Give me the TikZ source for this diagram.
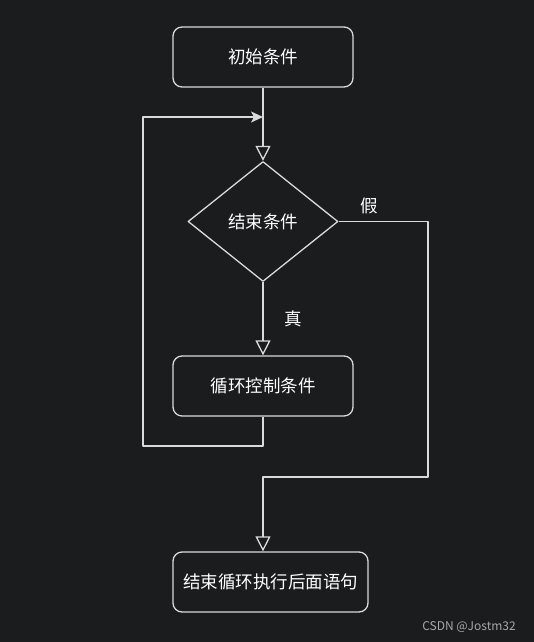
\documentclass[tikz,border=0pt]{standalone}
\usepackage{fontspec}
\newfontfamily\cjk{Noto Sans CJK SC}
\usetikzlibrary{arrows.meta,shapes.geometric}
\definecolor{bgdark}{HTML}{1B1C1E}
\definecolor{linegray}{HTML}{DADADA}
\definecolor{markgray}{HTML}{A8A8A8}

\begin{document}
\begin{tikzpicture}[x=1pt, y=-1pt, line width=1.3pt, line join=round,
	every node/.style={font=\cjk\fontsize{17.5}{21}\selectfont, text=white},
	stepbox/.style={draw=linegray, fill=bgdark, rounded corners=9pt, minimum height=60pt, inner sep=0pt},
	decision/.style={draw=linegray, fill=bgdark, diamond, minimum width=150pt, minimum height=120pt, inner sep=0pt},
	openarrow/.style={draw=linegray, -{Triangle[open, length=15pt, width=15pt, line width=1.3pt, fill=bgdark]}},
	fillarrow/.style={draw=linegray, -{Stealth[length=12pt, width=11pt, inset=3pt, fill=linegray]}}]
	% background and page size
	\fill[bgdark] (0,0) rectangle (534,642);
	\useasboundingbox (0,0) rectangle (534,642);
	% nodes
	\node[stepbox, minimum width=180pt] (init) at (263,57) {初始条件};
	\node[decision] (cond) at (263,221.5) {结束条件};
	\node[stepbox, minimum width=180pt] (loopctl) at (263,386) {循环控制条件};
	\node[stepbox, minimum width=195pt] (after) at (270.5,582) {结束循环执行后面语句};
	% bend points
	\coordinate (merge) at (263,117);
	\coordinate (loopleft) at (143,446);
	\coordinate (falsedown) at (428,477);
	% connectors
	\draw[openarrow] (init) -- (cond);
	\draw[openarrow] (cond) -- (loopctl);
	\draw[fillarrow] (loopctl.south) -- (loopctl.south |- loopleft) -- (loopleft) |- (merge);
	\draw[openarrow] (cond.east) -| (falsedown) -- (falsedown -| cond) -- (after.north -| cond);
	% labels
	\node (yes) at (293,319) {真};
	\node (no) at (369,206) {假};
	\node[font=\cjk\fontsize{12}{14}\selectfont, text=markgray] (mark) at (469,627) {CSDN @Jostm32};
\end{tikzpicture}
\end{document}
